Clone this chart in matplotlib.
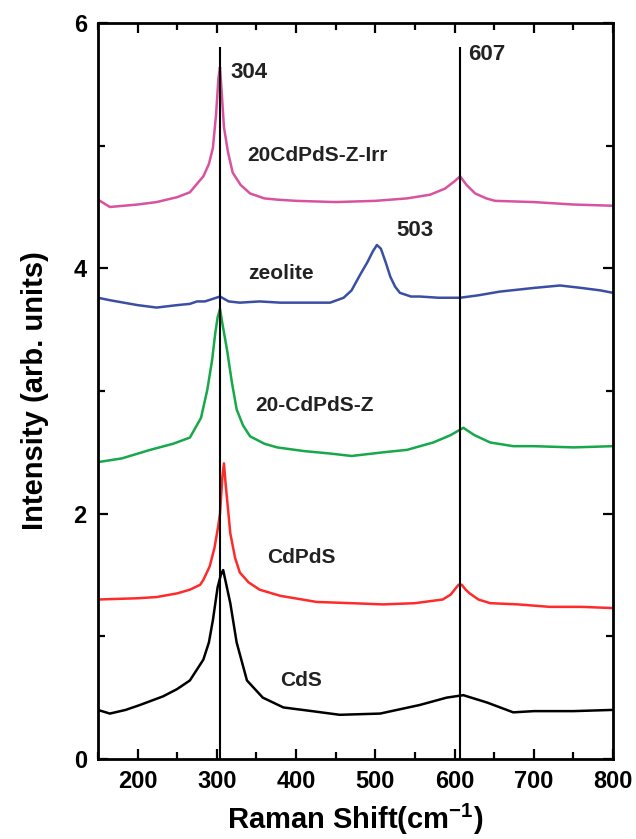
import matplotlib
matplotlib.use("Agg")
import matplotlib.pyplot as plt
from matplotlib.ticker import MultipleLocator

plt.rcParams['font.family'] = ['Liberation Sans', 'DejaVu Sans']
plt.rcParams['font.weight'] = 'bold'
plt.rcParams['axes.labelweight'] = 'bold'
plt.rcParams['mathtext.fontset'] = 'custom'
plt.rcParams['mathtext.rm'] = 'Liberation Sans:bold'
plt.rcParams['mathtext.bf'] = 'Liberation Sans:bold'
plt.rcParams['mathtext.default'] = 'bf'

# values (Raman shift in cm-1, intensity arb. units)
x_irr = [150, 165, 200, 224, 250, 266, 283, 290, 295, 299, 302, 304, 306, 309, 314, 320, 330, 342,
         360, 376, 400, 450, 500, 540, 569, 588, 600, 607, 615, 626, 640, 651, 700, 750, 800]
y_irr = [4.56, 4.50, 4.52, 4.54, 4.58, 4.62, 4.75, 4.85, 4.98, 5.25, 5.55, 5.64, 5.45, 5.15, 4.95,
         4.78, 4.68, 4.61, 4.57, 4.56, 4.55, 4.54, 4.55, 4.57, 4.60, 4.65, 4.71, 4.75, 4.68, 4.61,
         4.57, 4.55, 4.54, 4.52, 4.51]

x_zeo = [150, 165, 200, 224, 250, 266, 275, 285, 304, 315, 329, 354, 380, 410, 443, 460, 470, 481,
         490, 497, 502, 507, 513, 519, 525, 531, 545, 556, 580, 607, 630, 657, 700, 733, 760, 784, 800]
y_zeo = [3.76, 3.74, 3.70, 3.68, 3.70, 3.71, 3.73, 3.73, 3.77, 3.73, 3.72, 3.73, 3.72, 3.72, 3.72,
         3.76, 3.82, 3.95, 4.05, 4.14, 4.19, 4.16, 4.05, 3.93, 3.85, 3.80, 3.77, 3.77, 3.76, 3.76,
         3.78, 3.81, 3.84, 3.86, 3.84, 3.82, 3.80]

x_cpz = [150, 180, 216, 245, 266, 280, 288, 294, 298, 301, 304, 307, 313, 319, 325, 333, 342, 360,
         376, 410, 443, 470, 510, 540, 573, 595, 611, 625, 645, 674, 700, 750, 800]
y_cpz = [2.42, 2.45, 2.52, 2.57, 2.62, 2.78, 3.01, 3.25, 3.47, 3.60, 3.67, 3.55, 3.33, 3.07, 2.85,
         2.72, 2.63, 2.57, 2.54, 2.51, 2.49, 2.47, 2.50, 2.52, 2.58, 2.64, 2.70, 2.64, 2.58, 2.55,
         2.55, 2.54, 2.55]

x_cp = [150, 200, 224, 250, 266, 279, 283, 291, 297, 301, 304, 307, 309, 311, 317, 323, 329, 340,
        354, 380, 426, 470, 510, 550, 585, 595, 600, 605, 609, 614, 619, 630, 645, 680, 720, 760, 800]
y_cp = [1.30, 1.31, 1.32, 1.35, 1.38, 1.42, 1.46, 1.57, 1.72, 1.87, 2.00, 2.30, 2.41, 2.25, 1.84,
        1.64, 1.52, 1.44, 1.38, 1.33, 1.28, 1.27, 1.26, 1.27, 1.30, 1.34, 1.38, 1.42, 1.42, 1.38,
        1.35, 1.30, 1.27, 1.26, 1.24, 1.24, 1.23]

x_cds = [150, 165, 185, 203, 232, 250, 266, 283, 290, 295, 301, 305, 308, 312, 317, 325, 338, 358,
         384, 420, 455, 506, 556, 590, 611, 641, 674, 700, 750, 800]
y_cds = [0.40, 0.37, 0.40, 0.44, 0.51, 0.57, 0.64, 0.81, 0.95, 1.13, 1.40, 1.50, 1.54, 1.42, 1.27,
         0.95, 0.64, 0.50, 0.42, 0.39, 0.36, 0.37, 0.44, 0.50, 0.52, 0.46, 0.38, 0.39, 0.39, 0.40]

peak_lines = [304, 607]
peak_top = 5.8

series = [
    (x_irr, y_irr, '#d9529f', '20CdPdS-Z-Irr', 339, 4.92),
    (x_zeo, y_zeo, '#3a4ea3', 'zeolite', 339, 3.96),
    (x_cpz, y_cpz, '#16a84a', '20-CdPdS-Z', 348, 2.88),
    (x_cp, y_cp, '#ff2a2a', 'CdPdS', 363, 1.64),
    (x_cds, y_cds, '#000000', 'CdS', 380, 0.64),
]

peak_labels = [('304', 317, 5.60), ('607', 617, 5.74), ('503', 527, 4.31)]

fig = plt.figure(figsize=(6.36, 8.39), dpi=100)
ax = fig.add_axes([0.154, 0.0954, 0.81, 0.8772])

for xs, ys, col, name, tx, ty in series:
    ax.plot(xs, ys, color=col, lw=1.8, solid_joinstyle='round')
    ax.text(tx, ty, name, fontsize=15, color='#222222', va='center', ha='left')

for xp in peak_lines:
    ax.plot([xp, xp], [0, peak_top], color='black', lw=1.5)

for s, tx, ty in peak_labels:
    ax.text(tx, ty, s, fontsize=16, color='#222222', va='center', ha='left')

ax.set_xlim(150, 800)
ax.set_ylim(0, 6)
ax.xaxis.set_major_locator(MultipleLocator(100))
ax.xaxis.set_minor_locator(MultipleLocator(50))
ax.yaxis.set_major_locator(MultipleLocator(2))
ax.yaxis.set_minor_locator(MultipleLocator(1))
ax.tick_params(which='both', direction='in', top=True, right=True, width=1.6, labelsize=17,
               pad=8)
ax.tick_params(which='major', length=7)
ax.tick_params(which='minor', length=5)
for sp in ax.spines.values():
    sp.set_linewidth(2)

ax.set_xticks([200, 300, 400, 500, 600, 700, 800])
ax.set_xlabel('Raman Shift(cm$^{-1}$)', fontsize=21, labelpad=6)
ax.set_ylabel('Intensity (arb. units)', fontsize=21, labelpad=18)

fig.savefig('out.png', dpi=100)
